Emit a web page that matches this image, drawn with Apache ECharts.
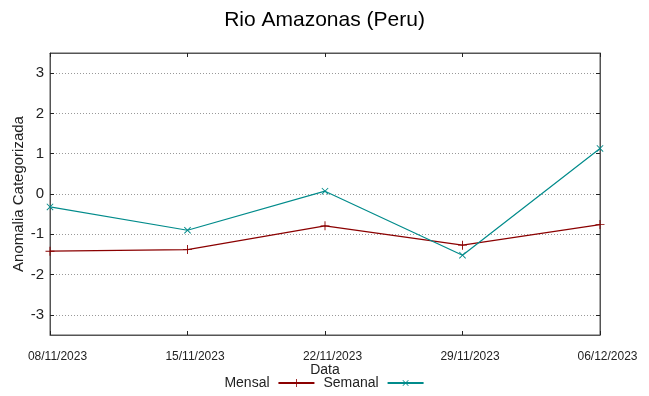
<!DOCTYPE html>
<html><head><meta charset="utf-8">
<script src="https://cdn.jsdelivr.net/npm/echarts@6/dist/echarts.min.js"></script>
<style>html,body{margin:0;padding:0;background:#fff}#c{width:649px;height:396px}</style>
</head><body><div id="c"></div>
<script>
const dates = ['08/11/2023','15/11/2023','22/11/2023','29/11/2023','06/12/2023'];
const mensal = [-1.42, -1.38, -0.79, -1.27, -0.76];
const semanal = [-0.32, -0.90, 0.07, -1.52, 1.13];
const yTicks = [-3, -2, -1, 0, 1, 2, 3];
const titleText = 'Rio Amazonas (Peru)';
const xName = 'Data';
const yName = 'Anomalia Categorizada';

const RED = '#8b0000', TEAL = '#008b8b', AX = '#555';
const FONT = 'Liberation Sans, Arial, sans-serif';
const plus = 'path://M0,4.5h10v1h-10zM4.5,0h1v10h-1z';

const chart = echarts.init(document.getElementById('c'), null, {renderer:'canvas'});
const yBase = {
  type:'value', min:-3.5, max:3.5,
  axisLine:{show:true, onZero:false, lineStyle:{color:AX, width:1}},
  axisTick:{show:true, inside:true, length:4, customValues:yTicks, lineStyle:{color:'#222'}},
};
chart.setOption({
  animation:false,
  title:{text:titleText, left:'center', top:5, textStyle:{fontFamily:FONT, fontSize:21, fontWeight:'normal', color:'#000'}},
  grid:{left:50, right:49, top:53, bottom:61, show:true, borderColor:AX, borderWidth:1, outerBoundsMode:'none', containLabel:false},
  legend:{
    bottom:1, left:'center', align:'right', itemWidth:36, itemHeight:10, itemGap:8,
    formatter: n => n + ' ',
    textStyle:{fontFamily:FONT, fontSize:14, color:'#222'},
    data:['Mensal','Semanal']
  },
  xAxis:[{
    type:'category', data:dates, boundaryGap:false,
    name:xName, nameLocation:'middle', nameGap:28, nameMoveOverlap:false,
    nameTextStyle:{fontFamily:FONT, fontSize:14, color:'#222'},
    axisLine:{show:true, onZero:false, lineStyle:{color:AX}},
    axisTick:{show:true, inside:true, length:4, alignWithLabel:true, lineStyle:{color:'#222'}},
    axisLabel:{fontFamily:FONT, fontSize:12, color:'#222', margin:16, padding:[0,0,0,15], showMinLabel:true, showMaxLabel:true, interval:0, hideOverlap:false},
    splitLine:{show:false}
  },{
    type:'category', data:dates, boundaryGap:false, position:'top',
    axisLine:{show:true, onZero:false, lineStyle:{color:AX}},
    axisTick:{show:true, inside:true, length:4, lineStyle:{color:'#222'}},
    axisLabel:{show:false}
  }],
  yAxis:[Object.assign({}, yBase, {
    name:yName, nameLocation:'middle', nameGap:24, nameMoveOverlap:false,
    nameTextStyle:{fontFamily:FONT, fontSize:15, color:'#222'},
    axisLabel:{customValues:yTicks, fontFamily:FONT, fontSize:15, color:'#222', margin:6},
    splitLine:{show:true, lineStyle:{color:'#999', type:[1,2], width:1}}
  }), Object.assign({}, yBase, {
    position:'right',
    axisLabel:{show:false},
    splitLine:{show:false}
  })],
  series:[{
    name:'Mensal', type:'line', data:mensal,
    symbol:plus, symbolSize:9, showAllSymbol:true,
    lineStyle:{color:RED, width:1.2},
    itemStyle:{color:RED},
    clip:false
  },{
    name:'Semanal', type:'line', data:semanal,
    symbol:plus, symbolSize:9, symbolRotate:45, showAllSymbol:true,
    lineStyle:{color:TEAL, width:1.2},
    itemStyle:{color:TEAL},
    clip:false
  }]
});
</script></body></html>
